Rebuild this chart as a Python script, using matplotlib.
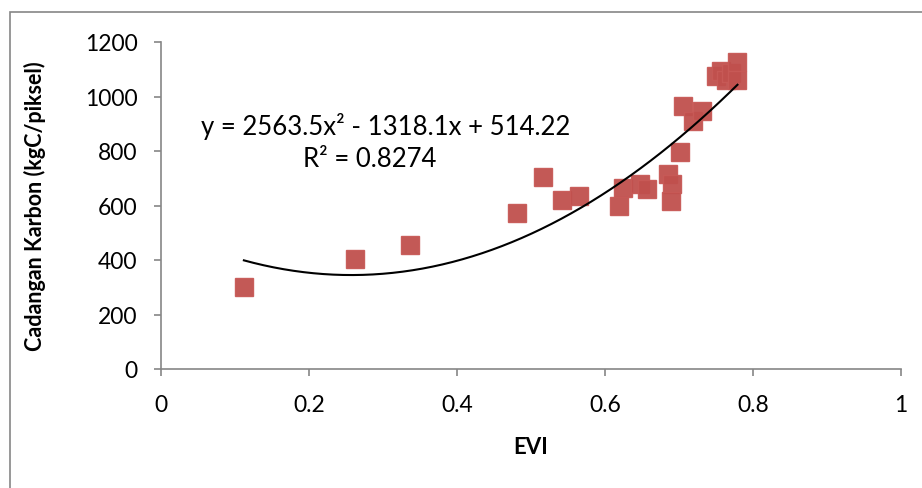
import matplotlib.pyplot as plt
import numpy as np
from matplotlib.patches import Rectangle

# EVI vs cadangan karbon
evi = [0.112, 0.262, 0.336, 0.481, 0.516, 0.542, 0.565, 0.619, 0.624,
       0.647, 0.657, 0.685, 0.691, 0.689, 0.701, 0.705, 0.719, 0.731,
       0.750, 0.757, 0.763, 0.770, 0.779, 0.779]
carbon = [300, 404, 455, 572, 705, 620, 635, 600, 665,
          680, 660, 715, 680, 615, 795, 965, 910, 947,
          1075, 1095, 1060, 1085, 1125, 1060]

# polynomial trendline coefficients (a x^2 + b x + c)
coef = [2563.5, -1318.1, 514.22]
r2 = 0.8274

x_ticks = [0, 0.2, 0.4, 0.6, 0.8, 1]
x_labels = ["0", "0.2", "0.4", "0.6", "0.8", "1"]
y_ticks = [0, 200, 400, 600, 800, 1000, 1200]

plt.rcParams['font.family'] = ['Lato', 'DejaVu Sans']

fig = plt.figure(figsize=(9.22, 4.89), dpi=100)
ax = fig.add_axes([161 / 922, 1 - 370 / 489, 740 / 922, 327 / 489])

# outer chart border
fig.patches.append(Rectangle((10 / 922, -0.1), 1.2, 1 - 13 / 489 + 0.1,
                             transform=fig.transFigure, fill=False,
                             edgecolor='#868686', linewidth=1.2))

ax.plot(evi, carbon, linestyle='none', marker='s', markersize=13.5,
        color='#C0504D', markeredgecolor='#C85A57', alpha=0.95, zorder=2)

xs = np.linspace(min(evi), max(evi), 200)
ax.plot(xs, np.polyval(coef, xs), color='black', linewidth=1.5, zorder=3)

ax.text(0.304, 892, "y = 2563.5x² - 1318.1x + 514.22", fontsize=18.5,
        ha='center', va='center')
ax.text(0.282, 774, "R² = %.4f" % r2, fontsize=18.5, ha='center', va='center')

ax.set_xlim(0, 1)
ax.set_ylim(0, 1200)
ax.set_xticks(x_ticks)
ax.set_xticklabels(x_labels)
ax.set_yticks(y_ticks)

for side in ['top', 'right']:
    ax.spines[side].set_visible(False)
for side in ['left', 'bottom']:
    ax.spines[side].set_color('#868686')
    ax.spines[side].set_linewidth(1.2)

ax.tick_params(axis='both', direction='out', length=5, color='#868686',
               labelsize=16.5, width=1.2)
ax.tick_params(axis='y', pad=12)
ax.tick_params(axis='x', pad=13)

ax.set_xlabel("EVI", fontsize=16, fontweight='bold', labelpad=15)
ax.set_ylabel("Cadangan Karbon (kgC/piksel)", fontsize=15.5, fontweight='bold',
              labelpad=28)

fig.savefig('out.png', dpi=100)
